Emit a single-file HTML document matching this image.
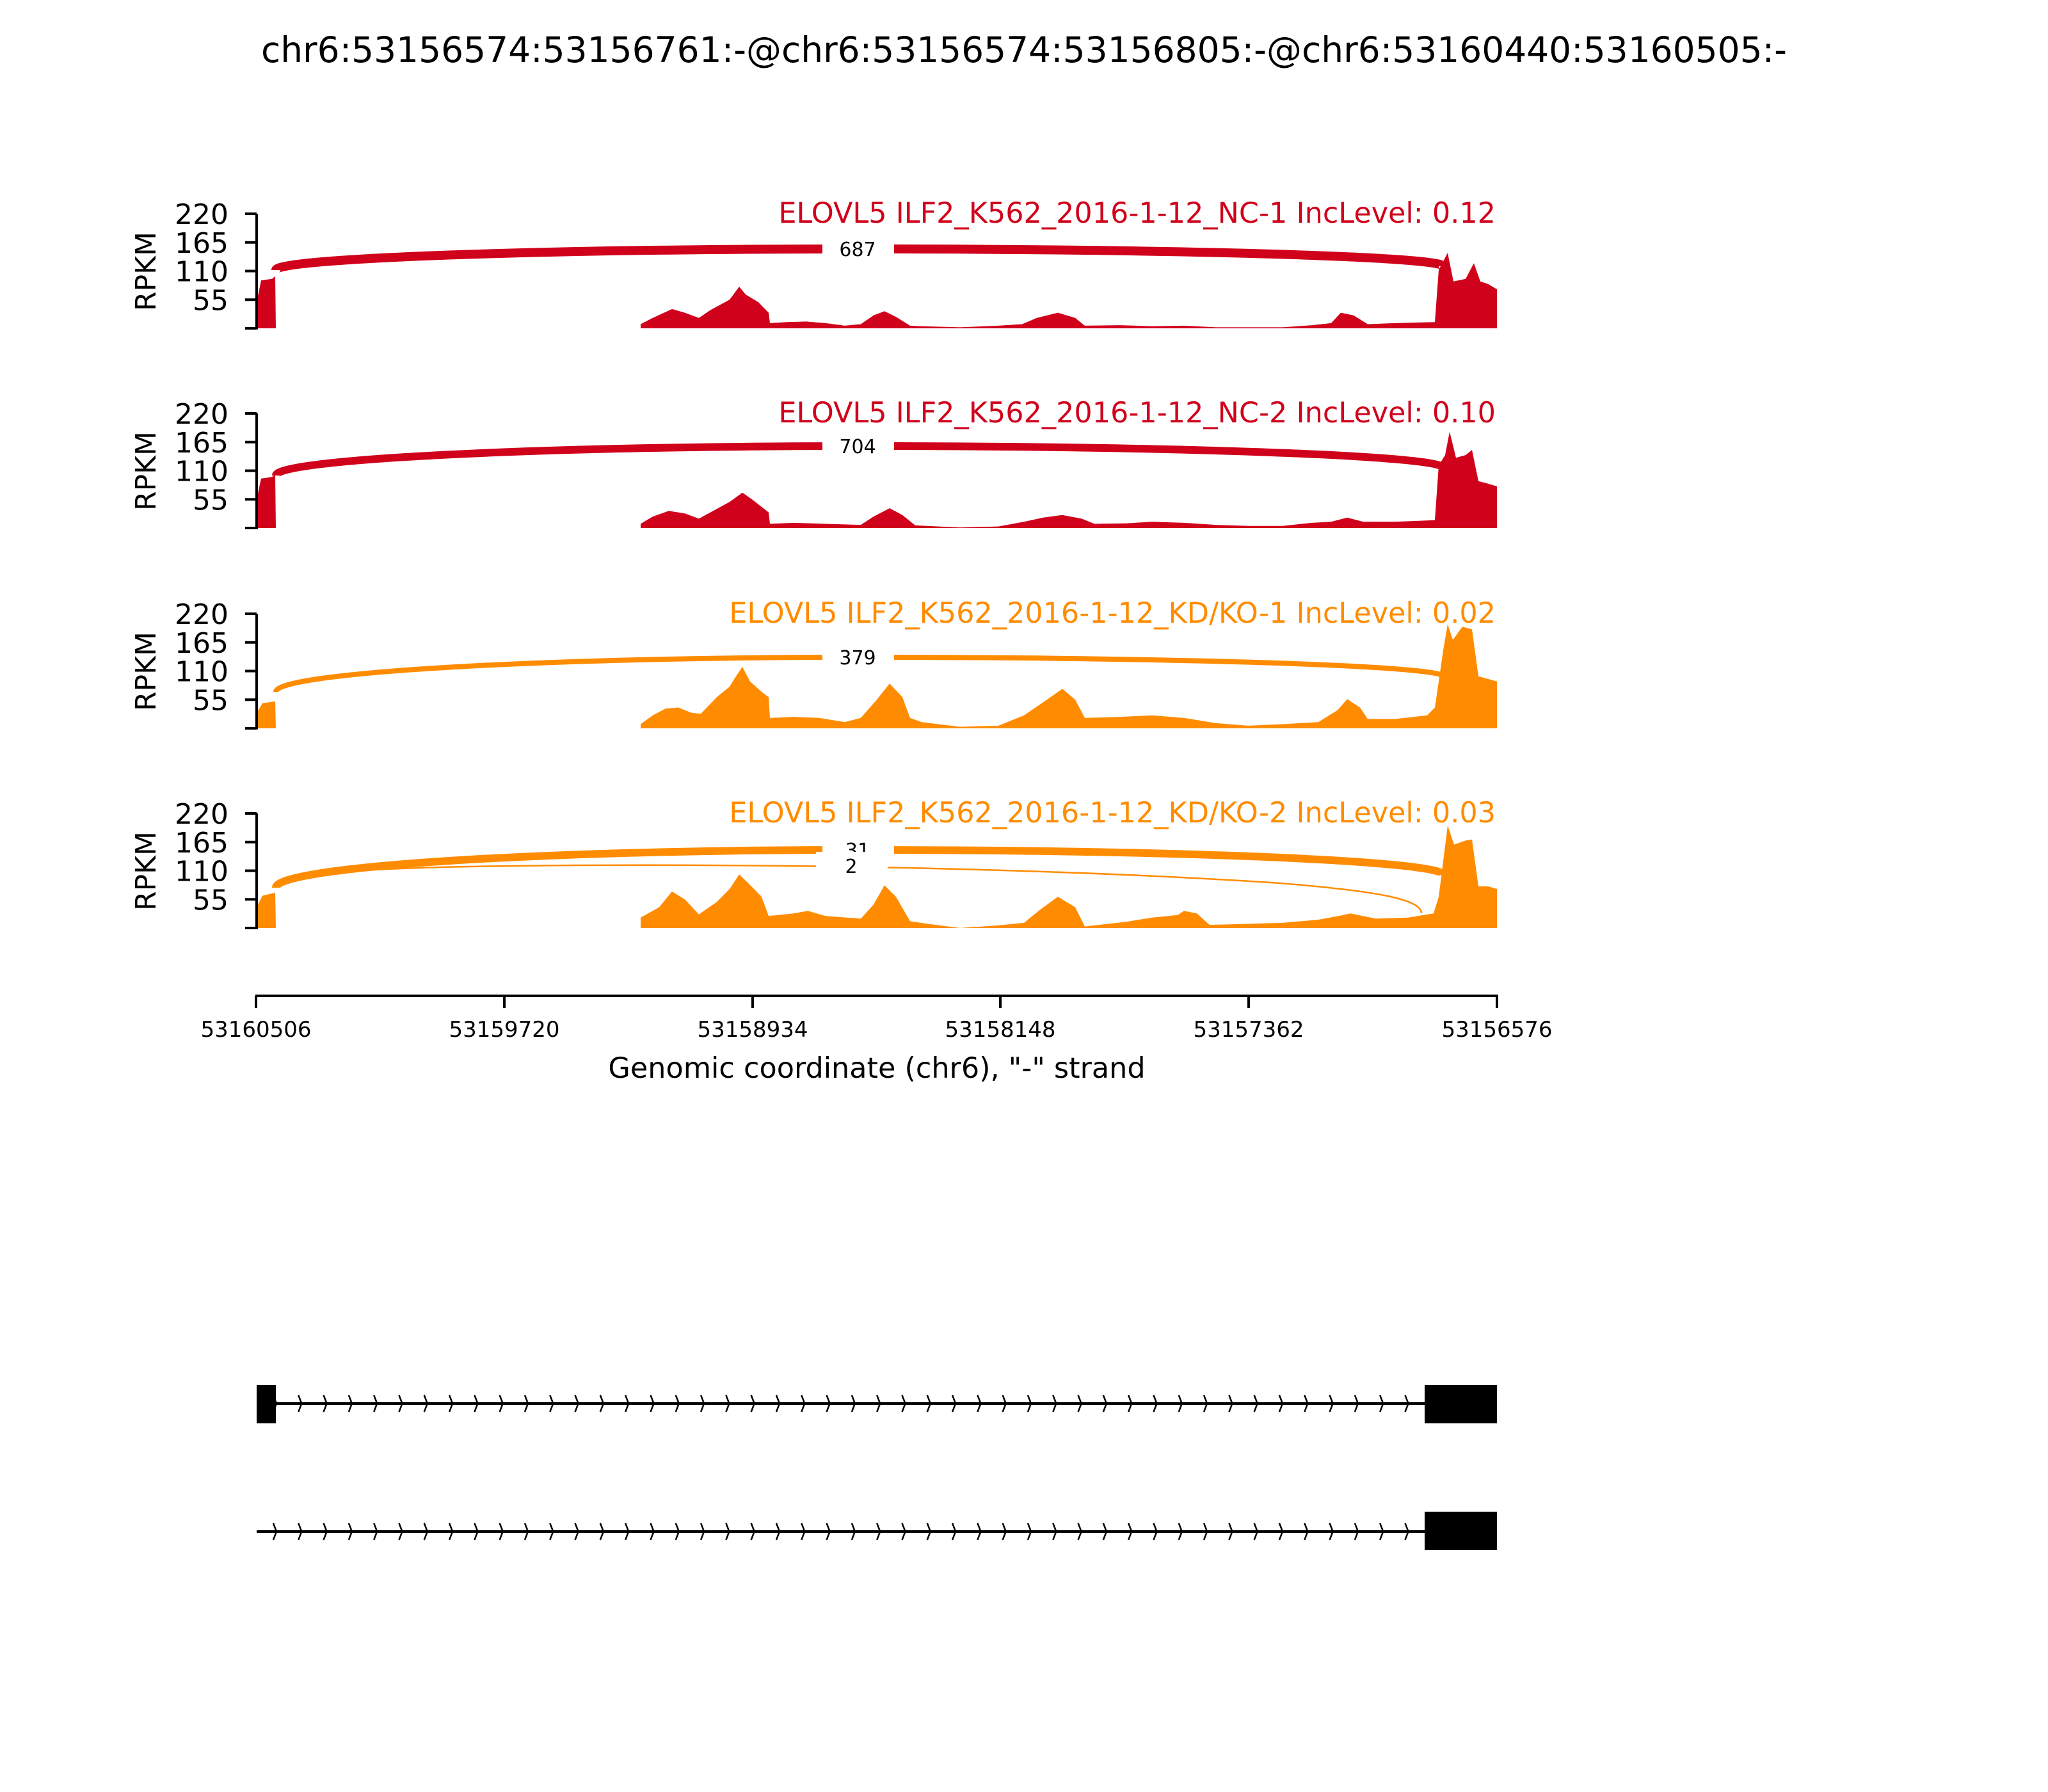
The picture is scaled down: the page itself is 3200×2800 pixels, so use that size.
<!DOCTYPE html>
<html><head><meta charset="utf-8"><style>
html,body{margin:0;padding:0;background:#fff;}
svg{display:block;}
text{font-family:"DejaVu Sans","Liberation Sans",sans-serif;}
</style></head><body>
<svg id="s" width="3200" height="2800" viewBox="0 0 3200 2800" xmlns="http://www.w3.org/2000/svg">
<rect width="3200" height="2800" fill="#fff"/>
<text x="1600" y="97" font-size="55" text-anchor="middle">chr6:53156574:53156761:-@chr6:53156574:53156805:-@chr6:53160440:53160505:-</text>
<g id="panels"></g>
<!-- x axis -->
<g stroke="#000" stroke-width="4" fill="none">
<line x1="399" y1="1556" x2="2341" y2="1556"/>
<line x1="400" y1="1556" x2="400" y2="1575"/>
<line x1="788" y1="1556" x2="788" y2="1575"/>
<line x1="1176" y1="1556" x2="1176" y2="1575"/>
<line x1="1563" y1="1556" x2="1563" y2="1575"/>
<line x1="1951" y1="1556" x2="1951" y2="1575"/>
<line x1="2339" y1="1556" x2="2339" y2="1575"/>
</g>
<g font-size="34" text-anchor="middle">
<text x="400" y="1620">53160506</text>
<text x="788" y="1620">53159720</text>
<text x="1176" y="1620">53158934</text>
<text x="1563" y="1620">53158148</text>
<text x="1951" y="1620">53157362</text>
<text x="2339" y="1620">53156576</text>
</g>
<text x="1370" y="1684" font-size="44.5" text-anchor="middle">Genomic coordinate (chr6), "-" strand</text>
<!-- gene models -->
<g id="genes">
<line x1="401" y1="2193" x2="2226" y2="2193" stroke="#000" stroke-width="4"/>
<rect x="401" y="2164" width="30" height="60" fill="#000"/>
<rect x="2226" y="2164" width="113" height="60" fill="#000"/>
<line x1="401" y1="2393" x2="2226" y2="2393" stroke="#000" stroke-width="4"/>
<rect x="2226" y="2362" width="113" height="60" fill="#000"/>
</g>
</svg>
<script>
var NS="http://www.w3.org/2000/svg";
var g=document.getElementById('panels');
function el(t,a,p){var e=document.createElementNS(NS,t);for(var k in a)e.setAttribute(k,a[k]);(p||g).appendChild(e);return e;}
var RED="#d0011b",OR="#ff8c00";
var panels=[
{top:334,c:RED,t:"ELOVL5 ILF2_K562_2016-1-12_NC-1 IncLevel: 0.12",
pts:[[401,0],[401,50],[408,92],[425,95],[430,100],[431,0],[1001,0],[1001,8],[1020,20],[1050,37],[1070,30],[1092,20],[1110,35],[1140,55],[1155,80],[1165,65],[1185,50],[1201,30],[1203,10],[1230,12],[1260,13],[1290,10],[1320,5],[1345,8],[1365,25],[1382,33],[1400,22],[1422,5],[1440,4],[1500,2],[1560,5],[1597,8],[1620,20],[1653,30],[1680,20],[1695,5],[1750,6],[1800,4],[1850,5],[1900,2],[2004,2],[2050,6],[2080,10],[2095,30],[2115,25],[2137,8],[2180,10],[2242,12],[2248,112],[2262,145],[2271,90],[2290,95],[2303,125],[2313,90],[2325,85],[2339,75],[2339,0]],
arcs:[[431,422,1340,389,2255,416,14]],labels:[["687",1340,389]]},
{top:646,c:RED,t:"ELOVL5 ILF2_K562_2016-1-12_NC-2 IncLevel: 0.10",
pts:[[401,0],[401,55],[408,95],[425,98],[430,102],[431,0],[1001,0],[1001,8],[1020,22],[1045,33],[1070,28],[1092,18],[1110,30],[1140,50],[1160,68],[1175,55],[1201,30],[1203,8],[1240,10],[1290,8],[1345,6],[1365,22],[1390,38],[1410,25],[1430,5],[1500,1],[1560,3],[1600,12],[1630,20],[1660,25],[1690,18],[1710,8],[1760,9],[1800,12],[1850,10],[1900,6],[1950,4],[2004,4],[2050,10],[2080,12],[2105,20],[2130,12],[2180,12],[2242,15],[2248,120],[2258,140],[2265,185],[2275,135],[2290,140],[2300,150],[2310,90],[2325,85],[2339,80],[2339,0]],
arcs:[[431,743,1340,697,2255,731,12]],labels:[["704",1340,697]]},
{top:959,c:OR,t:"ELOVL5 ILF2_K562_2016-1-12_KD/KO-1 IncLevel: 0.02",
pts:[[401,0],[401,30],[410,48],[430,52],[431,0],[1001,0],[1001,8],[1020,25],[1040,38],[1060,40],[1080,30],[1095,28],[1120,60],[1140,80],[1150,100],[1160,118],[1172,90],[1190,70],[1201,60],[1203,20],[1240,22],[1280,20],[1320,12],[1345,20],[1370,55],[1390,86],[1410,60],[1422,20],[1440,12],[1500,3],[1560,5],[1600,25],[1630,50],[1660,76],[1680,55],[1695,20],[1750,22],[1800,25],[1850,20],[1900,10],[1950,5],[2004,8],[2060,12],[2090,35],[2105,56],[2125,40],[2137,18],[2180,18],[2230,25],[2242,40],[2248,90],[2255,150],[2262,200],[2270,170],[2285,195],[2300,190],[2310,100],[2325,95],[2339,90],[2339,0]],
arcs:[[431,1081,1340,1027,2255,1057,8]],labels:[["379",1340,1027]]},
{top:1271,c:OR,t:"ELOVL5 ILF2_K562_2016-1-12_KD/KO-2 IncLevel: 0.03",
pts:[[401,0],[401,40],[410,62],[430,68],[431,0],[1001,0],[1001,20],[1030,40],[1050,70],[1070,55],[1092,26],[1120,50],[1140,75],[1155,103],[1170,85],[1190,60],[1201,23],[1240,28],[1262,33],[1290,23],[1345,18],[1365,45],[1382,82],[1400,60],[1422,13],[1450,8],[1500,0],[1560,5],[1600,10],[1625,35],[1653,60],[1680,40],[1695,3],[1760,12],[1800,20],[1840,25],[1850,33],[1870,28],[1890,6],[1950,8],[2004,10],[2060,16],[2095,24],[2110,28],[2150,18],[2200,20],[2240,28],[2248,60],[2262,197],[2272,160],[2290,168],[2300,170],[2310,80],[2325,80],[2339,75],[2339,0]],
arcs:[[431,1387,1340,1328,2255,1367,12]],thin:true,labels:[["31",1340,1328],["2",1330,1353]]}
];
function arcPath(a){var x1=a[0],y1=a[1],xm=a[2],ym=a[3],x2=a[4],y2=a[5],k=0.552;
return "M"+x1+","+y1+" C"+x1+","+(y1-(y1-ym)*k)+" "+(xm-(xm-x1)*k)+","+ym+" "+xm+","+ym+
" C"+(xm+(x2-xm)*k)+","+ym+" "+x2+","+(y2-(y2-ym)*k)+" "+x2+","+y2;}
panels.forEach(function(p){
  var base=p.top+179;
  var d=p.pts.map(function(q,i){return (i?"L":"M")+q[0]+","+(base-q[1]*0.8136).toFixed(1);}).join(" ")+"Z";
  el('path',{d:d,fill:p.c});
  if(p.thin){el('path',{d:"M433,1385 C433,1362 600,1354 900,1352 C1300,1350 1700,1360 2000,1380 C2150,1392 2221,1405 2221,1427",fill:"none",stroke:p.c,"stroke-width":2.5});}
  p.arcs.forEach(function(a){el('path',{d:arcPath(a),fill:"none",stroke:p.c,"stroke-width":a[6]});});
  p.labels.forEach(function(l){
    el('rect',{x:l[1]-55,y:l[2]-22,width:112,height:44,fill:"#fff"});
    el('text',{x:l[1],y:l[2]+11,"font-size":30,"text-anchor":"middle"}).textContent=l[0];
  });
  // y axis
  el('line',{x1:401,y1:p.top,x2:401,y2:base+1.5,stroke:"#000","stroke-width":4});
  [0,55,110,165,220].forEach(function(v){
    var y=base-v*0.8136;
    el('line',{x1:383,y1:y,x2:401,y2:y,stroke:"#000","stroke-width":4});
    if(v) el('text',{x:357,y:y+16,"font-size":44,"text-anchor":"end"}).textContent=v;
  });
  var t=el('text',{x:228,y:p.top+90,"font-size":44,"text-anchor":"middle",transform:"rotate(-90 228 "+(p.top+90)+")",dy:"15"});
  t.textContent="RPKM";
  el('text',{x:2337,y:p.top+14,"font-size":44.5,"text-anchor":"end",fill:p.c}).textContent=p.t;
});
// chevrons
var gg=document.getElementById('genes');
[2193,2393].forEach(function(y){
  for(var x=430;x<2226;x+=39.3){
    el('polyline',{points:(x-3)+","+(y-13)+" "+(x+2)+","+y+" "+(x-3)+","+(y+13),fill:"none",stroke:"#000","stroke-width":2.5},gg);
  }
});
</script>
</body></html>
